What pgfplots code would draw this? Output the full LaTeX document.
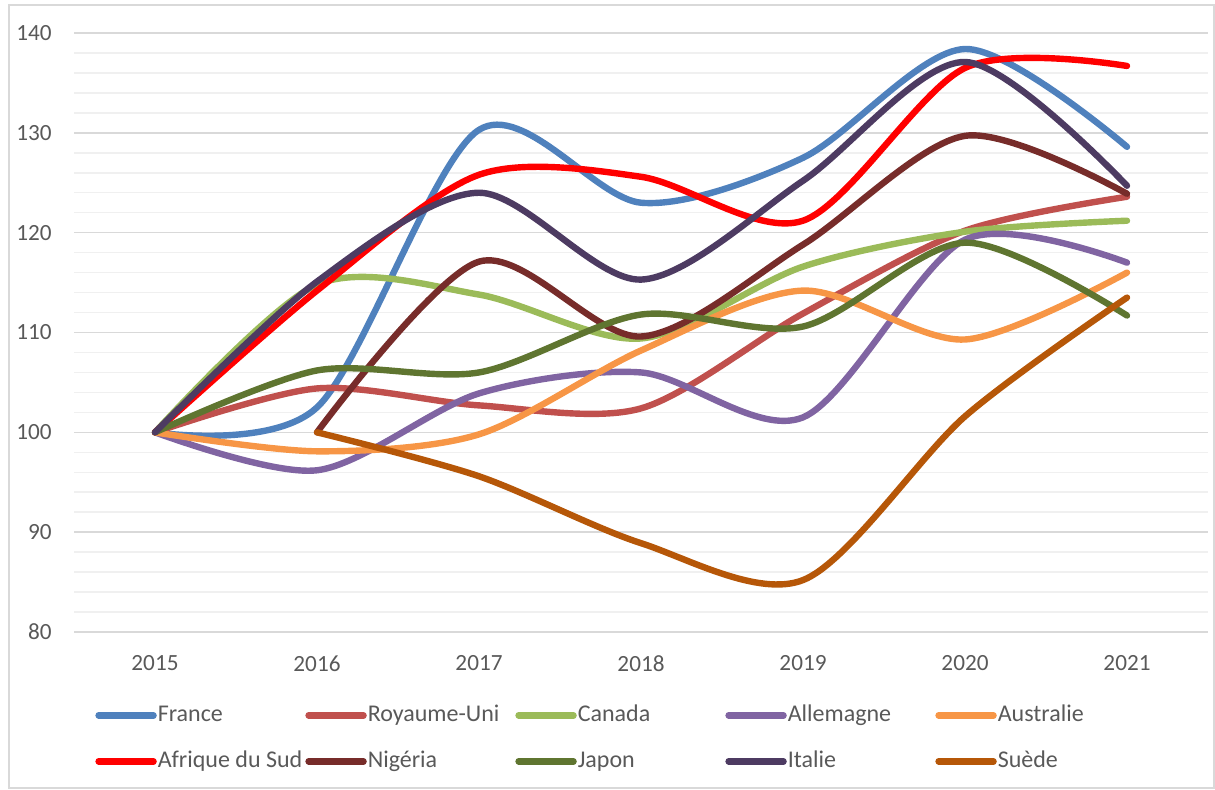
\documentclass[border=0pt]{standalone}
\usepackage{pgfplots}
\pgfplotsset{compat=1.18}
\usepackage{fontspec}
\setmainfont{Carlito}
\definecolor{cFrance}{HTML}{4F81BD}
\definecolor{cRU}{HTML}{C0504D}
\definecolor{cCanada}{HTML}{9BBB59}
\definecolor{cAllemagne}{HTML}{8064A2}
\definecolor{cAustralie}{HTML}{F79646}
\definecolor{cAfrique}{HTML}{FF0000}
\definecolor{cNigeria}{HTML}{772C2A}
\definecolor{cJapon}{HTML}{5F7530}
\definecolor{cItalie}{HTML}{4D3B62}
\definecolor{cSuede}{HTML}{B65708}
\definecolor{txt}{HTML}{595959}
\definecolor{majgrid}{HTML}{D9D9D9}
\definecolor{mingrid}{HTML}{F0F0F0}
\begin{document}
\begin{tikzpicture}
\useasboundingbox (-37pt,-78.5pt) rectangle (570.5pt,316pt);
\draw[majgrid, line width=0.75pt] (-32.5pt,313.5pt) rectangle (570pt,-78pt);
\begin{axis}[
  at={(0,0)}, anchor=south west,
  scale only axis, width=567pt, height=299.5pt,
  xmin=2014.5, xmax=2021.5, ymin=80, ymax=140,
  xtick={2015,2016,2017,2018,2019,2020,2021},
  ytick={80,90,100,110,120,130,140},
  minor y tick num=4,
  xticklabel style={/pgf/number format/1000 sep={}, inner sep=0pt, yshift=-11.5pt},
  yticklabel style={inner sep=0pt, xshift=-11pt},
  /pgf/number format/assume math mode=true,
  ticklabel style={font=\fontsize{11.6}{13}\selectfont, text=txt},
  major tick length=0pt, minor tick length=0pt,
  ymajorgrids, yminorgrids,
  major grid style={majgrid, line width=0.75pt},
  minor grid style={mingrid, line width=0.75pt},
  axis line style={draw=none},
  clip=false,
  every axis plot/.append style={line width=3.2pt, line cap=round, line join=round, smooth, no markers},
  legend columns=5,
  legend cell align=left,
  legend image code/.code={\draw[#1] (1.5pt,0pt) -- (29pt,0pt);},
  legend style={draw=none, fill=none, at={(axis description cs:0.0132,-0.1135)}, anchor=north west,
    font=\fontsize{12}{14}\selectfont, text=txt,
    row sep=12pt, column sep=0pt,
    nodes={inner ysep=0pt, inner xsep=0.5pt, text height=8.5pt, text depth=2.5pt}},
]
\addplot[cFrance] coordinates {(2015,100) (2016,102.5) (2017,130.3) (2018,123.0) (2019,127.5) (2020,138.4) (2021,128.6)};
\addlegendentry{\makebox[73.3pt][l]{France}}
\addplot[cRU] coordinates {(2015,100) (2016,104.4) (2017,102.7) (2018,102.4) (2019,111.9) (2020,120.2) (2021,123.6)};
\addlegendentry{\makebox[73.3pt][l]{Royaume-Uni}}
\addplot[cCanada] coordinates {(2015,100) (2016,114.8) (2017,113.8) (2018,109.4) (2019,116.6) (2020,120.1) (2021,121.2)};
\addlegendentry{\makebox[73.3pt][l]{Canada}}
\addplot[cAllemagne] coordinates {(2015,100) (2016,96.2) (2017,103.9) (2018,106.0) (2019,101.5) (2020,119.3) (2021,117.0)};
\addlegendentry{\makebox[73.3pt][l]{Allemagne}}
\addplot[cAustralie] coordinates {(2015,100) (2016,98.1) (2017,99.8) (2018,108.2) (2019,114.2) (2020,109.3) (2021,116.0)};
\addlegendentry{\makebox[73.3pt][l]{Australie}}
\addplot[cAfrique] coordinates {(2015,100) (2016,114.2) (2017,125.8) (2018,125.6) (2019,121.2) (2020,136.5) (2021,136.7)};
\addlegendentry{\makebox[73.3pt][l]{Afrique du Sud}}
\addplot[cNigeria] coordinates {(2016,100) (2017,117.1) (2018,109.6) (2019,118.8) (2020,129.7) (2021,123.9)};
\addlegendentry{\makebox[73.3pt][l]{Nigéria}}
\addplot[cJapon] coordinates {(2015,100) (2016,106.2) (2017,106.0) (2018,111.8) (2019,110.6) (2020,119.0) (2021,111.7)};
\addlegendentry{\makebox[73.3pt][l]{Japon}}
\addplot[cItalie] coordinates {(2015,100) (2016,115.1) (2017,124.0) (2018,115.3) (2019,125.2) (2020,137.1) (2021,124.7)};
\addlegendentry{\makebox[73.3pt][l]{Italie}}
\addplot[cSuede] coordinates {(2016,100) (2017,95.6) (2018,88.9) (2019,85.2) (2020,101.6) (2021,113.5)};
\addlegendentry{\makebox[73.3pt][l]{Suède}}
\end{axis}
\end{tikzpicture}
\end{document}
